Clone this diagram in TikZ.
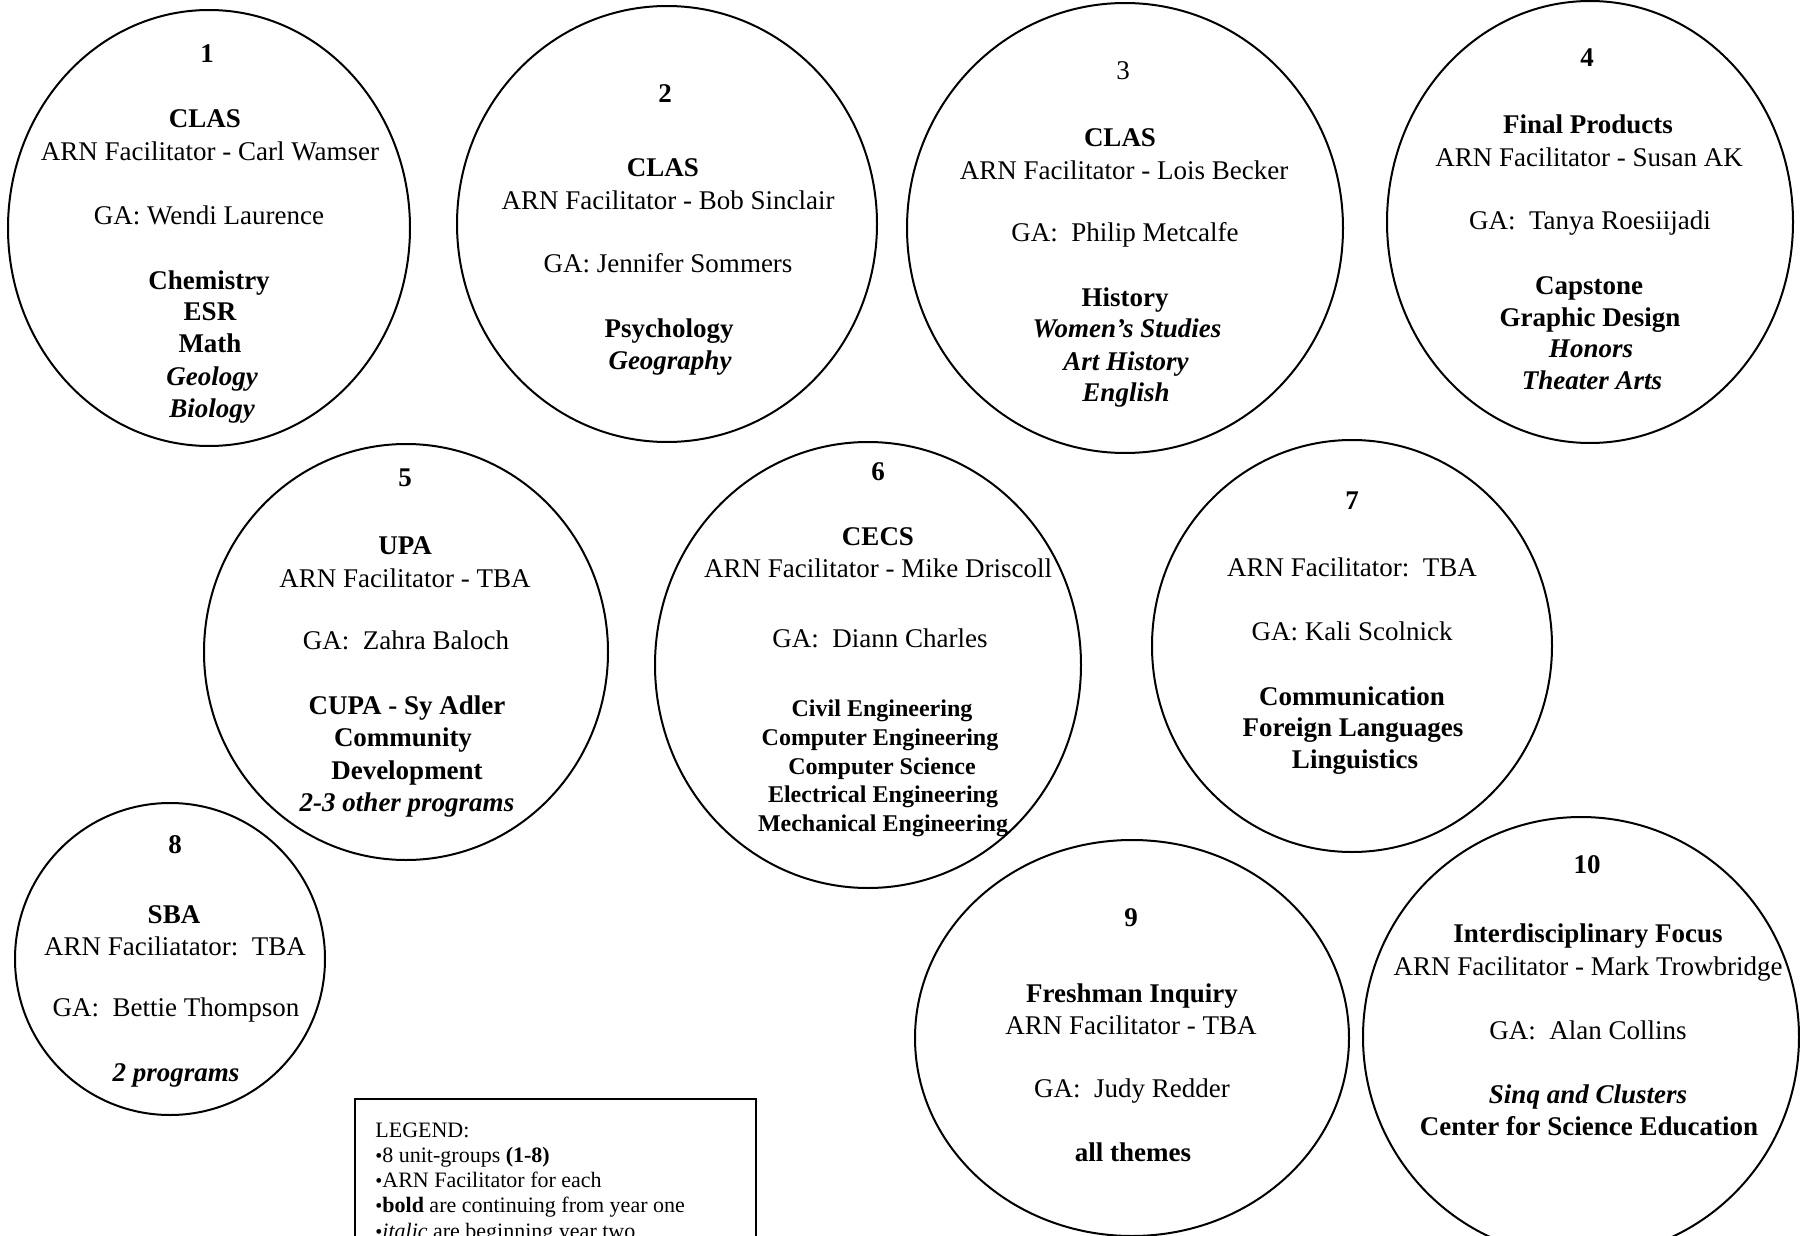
\documentclass[tikz,border=0pt]{standalone}
\usepackage{fontspec}
\setmainfont{Liberation Serif}
\usetikzlibrary{shapes.geometric}
\newcommand\lgbul{{\fontsize{10}{10}\selectfont\textbullet}}
\begin{document}
\begin{tikzpicture}[x=0.5pt,y=-0.5pt,
  grp/.style={draw, ellipse, line width=1pt, inner sep=0pt},
  txt/.style={inner sep=0pt, text height=8.9pt, text depth=0pt, font=\fontsize{13.5}{16}\selectfont},
  txb/.style={txt, font=\fontsize{13.5}{16}\selectfont\bfseries},
  txbi/.style={txt, font=\fontsize{13.5}{16}\selectfont\bfseries\itshape},
  txs/.style={inner sep=0pt, text height=8pt, text depth=0pt, font=\fontsize{12}{14}\selectfont\bfseries},
  lgd/.style={inner sep=0pt, anchor=west, text height=7.3pt, text depth=0pt, font=\fontsize{11}{13}\selectfont},
  lgbox/.style={draw, line width=0.9pt, inner sep=0pt, anchor=north west}]
\useasboundingbox (0,0) rectangle (1800,1236);
\clip (0,0) rectangle (1800,1236);
\fill[white] (0,0) rectangle (1800,1236);

% group ellipses
\node[grp, minimum width=201pt, minimum height=218pt] (g1) at (209,228) {};
\node[grp, minimum width=210pt, minimum height=218pt] (g2) at (667,224) {};
\node[grp, minimum width=218pt, minimum height=225pt] (g3) at (1125,228) {};
\node[grp, minimum width=203pt, minimum height=221pt] (g4) at (1590,222) {};
\node[grp, minimum width=202pt, minimum height=208pt] (g5) at (406,652) {};
\node[grp, minimum width=213pt, minimum height=223pt] (g6) at (868,665) {};
\node[grp, minimum width=200pt, minimum height=206pt] (g7) at (1352,646) {};
\node[grp, minimum width=155pt, minimum height=156pt] (g8) at (170,959) {};
\node[grp, minimum width=217pt, minimum height=198pt] (g9) at (1132,1038) {};
\node[grp, minimum width=218pt, minimum height=220pt] (g10) at (1581,1037) {};

% group 1
\node[txb] (n1) at (207,54) {1};
\node[txb] (u1) at (205,119) {CLAS};
\node[txt] (f1) at (210,152) {ARN Facilitator - Carl Wamser};
\node[txt] (ga1) at (209,216) {GA: Wendi Laurence};
\node[txb] (p1a) at (209,281) {Chemistry};
\node[txb] (p1b) at (210,312) {ESR};
\node[txb] (p1c) at (210,344) {Math};
\node[txbi] (p1d) at (212,377) {Geology};
\node[txbi] (p1e) at (212,409) {Biology};

% group 2
\node[txb] (n2) at (665,94) {2};
\node[txb] (u2) at (663,168) {CLAS};
\node[txt] (f2) at (668,201) {ARN Facilitator - Bob Sinclair};
\node[txt] (ga2) at (668,264) {GA: Jennifer Sommers};
\node[txb] (p2a) at (669,329) {Psychology};
\node[txbi] (p2b) at (670,361) {Geography};

% group 3
\node[txt] (n3) at (1123,71) {3};
\node[txb] (u3) at (1120,138) {CLAS};
\node[txt] (f3) at (1124,171) {ARN Facilitator - Lois Becker};
\node[txt] (ga3) at (1125,233) {GA:\ \ Philip Metcalfe};
\node[txb] (p3a) at (1125,298) {History};
\node[txbi] (p3b) at (1127,329) {Women’s Studies};
\node[txbi] (p3c) at (1126,362) {Art History};
\node[txbi] (p3d) at (1126,393) {English};

% group 4
\node[txb] (n4) at (1587,58) {4};
\node[txb] (u4) at (1588,125) {Final Products};
\node[txt] (f4) at (1589,158) {ARN Facilitator - Susan AK};
\node[txt] (ga4) at (1590,221) {GA:\ \ Tanya Roesiijadi};
\node[txb] (p4a) at (1589,286) {Capstone};
\node[txb] (p4b) at (1590,318) {Graphic Design};
\node[txbi] (p4c) at (1591,349) {Honors};
\node[txbi] (p4d) at (1592,381) {Theater Arts};

% group 5
\node[txb] (n5) at (405,478) {5};
\node[txb] (u5) at (405,546) {UPA};
\node[txt] (f5) at (405,579) {ARN Facilitator - TBA};
\node[txt] (ga5) at (406,641) {GA:\ \ Zahra Baloch};
\node[txb] (p5a) at (407,706) {CUPA - Sy Adler};
\node[txb] (p5b) at (403,738) {Community};
\node[txb] (p5c) at (407,771) {Development};
\node[txbi] (p5d) at (407,803) {2-3 other programs};

% group 6
\node[txb] (n6) at (878,472) {6};
\node[txb] (u6) at (878,537) {CECS};
\node[txt] (f6) at (878,569) {ARN Facilitator - Mike Driscoll};
\node[txt] (ga6) at (880,639) {GA:\ \ Diann Charles};
\node[txs] (p6a) at (882,708) {Civil Engineering};
\node[txs] (p6b) at (880,737) {Computer Engineering};
\node[txs] (p6c) at (882,766) {Computer Science};
\node[txs] (p6d) at (883,794) {Electrical Engineering};
\node[txs] (p6e) at (883,823) {Mechanical Engineering};

% group 7
\node[txb] (n7) at (1352,501) {7};
\node[txt] (f7) at (1352,568) {ARN Facilitator:\ \ TBA};
\node[txt] (ga7) at (1352,632) {GA: Kali Scolnick};
\node[txb] (p7a) at (1352,697) {Communication};
\node[txb] (p7b) at (1353,728) {Foreign Languages};
\node[txb] (p7c) at (1355,760) {Linguistics};

% group 8
\node[txb] (n8) at (175,845) {8};
\node[txb] (u8) at (174,915) {SBA};
\node[txt] (f8) at (175,947) {ARN Faciliatator:\ \ TBA};
\node[txt] (ga8) at (176,1008) {GA:\ \ Bettie Thompson};
\node[txbi] (p8a) at (176,1073) {2 programs};

% group 9
\node[txb] (n9) at (1131,918) {9};
\node[txb] (u9) at (1132,994) {Freshman Inquiry};
\node[txt] (f9) at (1131,1026) {ARN Facilitator - TBA};
\node[txt] (ga9) at (1132,1089) {GA:\ \ Judy Redder};
\node[txb] (p9a) at (1133,1153) {all themes};

% group 10
\node[txb] (n10) at (1587,865) {10};
\node[txb] (u10) at (1588,934) {Interdisciplinary Focus};
\node[txt] (f10) at (1588,967) {ARN Facilitator - Mark Trowbridge};
\node[txt] (ga10) at (1588,1031) {GA:\ \ Alan Collins};
\node[txbi] (p10a) at (1588,1095) {Sinq and Clusters};
\node[txb] (p10b) at (1589,1127) {Center for Science Education};

% legend
\node[lgbox, minimum width=200.5pt, minimum height=150pt] (legend) at (354,1098) {};
\node[lgd] (l0) at (375,1130) {LEGEND:};
\node[lgd] (l1) at (375,1155) {\lgbul 8 unit-groups \textbf{(1-8)}};
\node[lgd] (l2) at (375,1180) {\lgbul ARN Facilitator for each};
\node[lgd] (l3) at (375,1205) {\lgbul\textbf{bold} are continuing from year one};
\node[lgd] (l4) at (375,1231) {\lgbul\textit{italic} are beginning year two};
\end{tikzpicture}
\end{document}
